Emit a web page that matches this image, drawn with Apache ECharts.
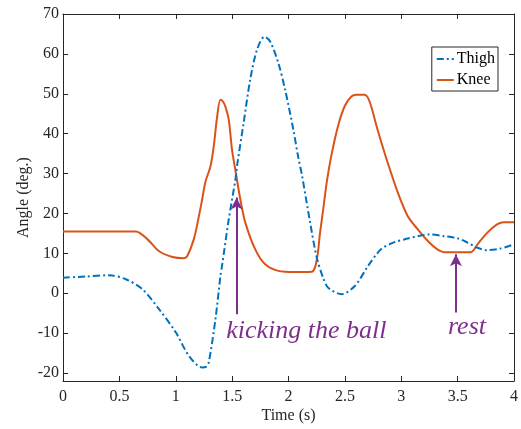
<!DOCTYPE html>
<html>
<head>
<meta charset="utf-8">
<script src="https://cdn.jsdelivr.net/npm/echarts@6/dist/echarts.min.js"></script>
<style>
  html, body { margin: 0; padding: 0; background: #fff; }
  #main { width: 521px; height: 429px; }
</style>
</head>
<body>
<div id="main"></div>
<script>
// ---- data ----
var thighT = [0, 0.205, 0.41, 0.558, 0.705, 0.852, 1.0, 1.117, 1.234, 1.27, 1.293, 1.352, 1.396, 1.41, 1.47, 1.529, 1.543, 1.602, 1.66, 1.72, 1.787, 1.837, 1.91, 1.97, 2.043, 2.087, 2.12, 2.19, 2.25, 2.308, 2.352, 2.47, 2.588, 2.705, 2.82, 2.94, 3.058, 3.147, 3.25, 3.38, 3.5, 3.588, 3.676, 3.764, 3.88, 4];
var thighV = [3.9, 4.2, 4.5, 3.5, 1.0, -4, -9.8, -15.7, -18.6, -18.4, -17.3, -6.5, 4.3, 6.8, 18.5, 28.5, 31.8, 42.7, 53.5, 61, 64.3, 63.1, 57.7, 51, 41, 34, 29.5, 18, 9, 3.8, 1.4, -0.25, 1.8, 6.8, 11, 12.8, 13.7, 14.3, 14.75, 14.3, 13.75, 12.7, 11.4, 10.8, 11.2, 12.25];

var kneeT = [0, 0.3, 0.646, 0.75, 0.85, 0.97, 1.07, 1.1, 1.16, 1.205, 1.234, 1.264, 1.308, 1.337, 1.366, 1.396, 1.42, 1.44, 1.47, 1.499, 1.528, 1.573, 1.617, 1.705, 1.793, 1.91, 2.058, 2.205, 2.235, 2.26, 2.279, 2.308, 2.34, 2.38, 2.44, 2.5, 2.558, 2.6, 2.676, 2.72, 2.79, 2.88, 2.97, 3.058, 3.147, 3.235, 3.32, 3.38, 3.617, 3.676, 3.764, 3.85, 3.91, 4];
var kneeV = [15.5, 15.5, 15.5, 13.5, 10.6, 9.1, 8.8, 9.2, 13.5, 19.3, 23.5, 28, 31.8, 36.8, 44, 48.5, 48, 46.8, 43.5, 36, 31, 23.5, 17.7, 11, 7.25, 5.6, 5.3, 5.4, 6.5, 10, 15, 21, 28, 34.5, 42, 47, 49.3, 49.75, 49.75, 48, 41, 32.7, 25.2, 19.3, 16, 13.1, 11, 10.3, 10.3, 12.25, 15.2, 17.25, 17.8, 17.8];

var yTicks = [-20, -10, 0, 10, 20, 30, 40, 50, 60, 70];

// annotations: [label, arrow x, arrow bottom, arrow top, text x, text y]
var kickNote = ['kicking the ball', 1.54, -5.25, 24, 2.158, -9.6];
var restNote = ['rest', 3.485, -4.8, 9.75, 3.583, -8.6];

function pairs(t, v) {
    var out = [];
    for (var i = 0; i < t.length; i++) {
        out.push([t[i], v[i]]);
    }
    return out;
}

var axisColor = '#262626';
var serif = 'Liberation Serif';
var purple = '#7E2F8E';

var chart = echarts.init(document.getElementById('main'));

var option = {
    animation: false,
    grid: { left: 63, right: 4, top: 14, bottom: 47 },
    legend: {
        orient: 'vertical',
        right: 23,
        top: 47,
        itemWidth: 17,
        itemHeight: 12,
        itemGap: 5,
        padding: [4, 3, 3, 4],
        borderColor: axisColor,
        borderWidth: 1,
        backgroundColor: '#fff',
        itemStyle: { opacity: 0 },
        textStyle: { fontFamily: serif, fontSize: 16, color: '#000', padding: [0, 0, 0, -2] },
        data: ['Thigh', 'Knee']
    },
    xAxis: [
        {
            type: 'value', min: 0, max: 4, interval: 0.5,
            name: 'Time (s)', nameLocation: 'middle', nameGap: 27, nameMoveOverlap: false,
            nameTextStyle: { fontFamily: serif, fontSize: 16, color: axisColor },
            axisLine: { onZero: false, lineStyle: { color: axisColor, width: 1 } },
            axisTick: { inside: true, length: 5, lineStyle: { color: axisColor } },
            axisLabel: { fontFamily: serif, fontSize: 16, color: axisColor, margin: 8 },
            splitLine: { show: false }
        },
        {
            type: 'value', position: 'top', min: 0, max: 4, interval: 0.5,
            axisLine: { onZero: false, lineStyle: { color: axisColor, width: 1 } },
            axisTick: { inside: true, length: 5, lineStyle: { color: axisColor } },
            axisLabel: { show: false },
            splitLine: { show: false }
        }
    ],
    yAxis: [
        {
            type: 'value', min: -22, max: 70,
            name: 'Angle (deg.)', nameLocation: 'middle', nameGap: 31, nameMoveOverlap: false,
            nameTextStyle: { fontFamily: serif, fontSize: 16, color: axisColor },
            axisLine: { show: true, onZero: false, lineStyle: { color: axisColor, width: 1 } },
            axisTick: { show: true, inside: true, length: 5, customValues: yTicks, lineStyle: { color: axisColor } },
            axisLabel: { fontFamily: serif, fontSize: 16, color: axisColor, margin: 4, customValues: yTicks },
            splitLine: { show: false }
        },
        {
            type: 'value', position: 'right', min: -22, max: 70,
            axisLine: { show: true, onZero: false, lineStyle: { color: axisColor, width: 1 } },
            axisTick: { show: true, inside: true, length: 5, customValues: yTicks, lineStyle: { color: axisColor } },
            axisLabel: { show: false },
            splitLine: { show: false }
        }
    ],
    series: [
        {
            name: 'Thigh', type: 'line',
            data: pairs(thighT, thighV),
            smooth: 0.3,
            showSymbol: false, symbol: 'none',
            itemStyle: { color: '#0072BD' },
            lineStyle: { color: '#0072BD', width: 2, type: [7, 3, 2, 3] },
            z: 3
        },
        {
            name: 'Knee', type: 'line',
            data: pairs(kneeT, kneeV),
            smooth: 0.3,
            showSymbol: false, symbol: 'none',
            itemStyle: { color: '#D95319' },
            lineStyle: { color: '#D95319', width: 2 },
            z: 2,
            markLine: {
                silent: true,
                symbol: ['none', 'arrow'],
                symbolSize: [9, 12],
                lineStyle: { color: purple, width: 2, type: 'solid' },
                label: { show: false },
                data: [
                    [{ coord: [kickNote[1], kickNote[2]] }, { coord: [kickNote[1], kickNote[3]] }],
                    [{ coord: [restNote[1], restNote[2]] }, { coord: [restNote[1], restNote[3]] }]
                ]
            },
            markPoint: {
                silent: true,
                symbol: 'circle',
                symbolSize: 0,
                label: {
                    show: true, position: 'inside',
                    fontFamily: serif, fontStyle: 'italic', fontSize: 26, color: purple,
                    formatter: function (p) { return p.name; }
                },
                data: [
                    { name: kickNote[0], coord: [kickNote[4], kickNote[5]] },
                    { name: restNote[0], coord: [restNote[4], restNote[5]] }
                ]
            }
        }
    ]
};

chart.setOption(option);
</script>
</body>
</html>
